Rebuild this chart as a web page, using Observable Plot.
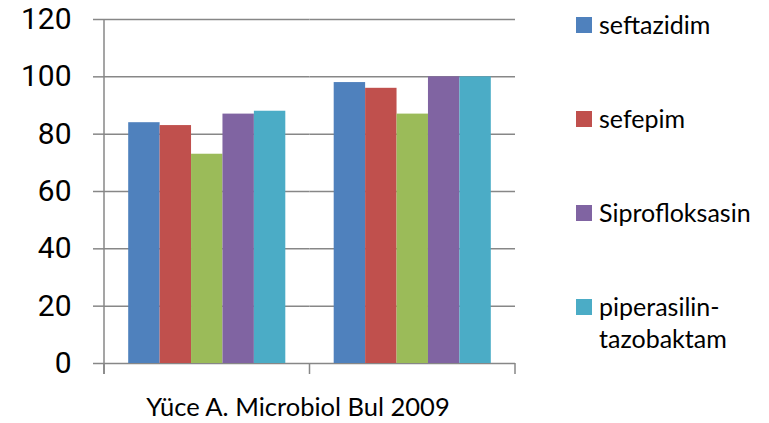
<!DOCTYPE html>
<html><head><meta charset="utf-8">
<script src="https://cdn.jsdelivr.net/npm/d3@7"></script>
<script src="https://cdn.jsdelivr.net/npm/@observablehq/plot@0.6"></script>
<style>
body{margin:0;background:#fff;}
#wrap{position:relative;width:769px;height:423px;overflow:hidden;font-family:Lato,"Open Sans",sans-serif;background:#fff;}
#chart{position:absolute;left:0;top:0;}
.caption{position:absolute;left:0;top:391px;width:596px;text-align:center;font-family:"Comic Sans MS",Lato,sans-serif;font-size:25.5px;line-height:30px;color:#000;}
.legend-item{position:absolute;left:576px;width:193px;font-size:25px;line-height:32px;color:#000;}
.legend-item .sw{position:absolute;left:0;top:9px;width:16px;height:16px;}
.legend-item .lb{display:block;margin-left:23px;}
</style></head>
<body><div id="wrap"><div id="chart"></div></div>
<script>
const groups = ["1", "2"];
const series = ["seftazidim", "sefepim", "Seri 3", "Siprofloksasin", "piperasilin-tazobaktam"];
const legendSeries = ["seftazidim", "sefepim", "Siprofloksasin", "piperasilin-tazobaktam"];
const group1Values = [84, 83, 73, 87, 88];
const group2Values = [98, 96, 87, 100, 100];
const yTicks = [0, 20, 40, 60, 80, 100, 120];
const colors = ["#4F81BD", "#C0504D", "#9BBB59", "#8064A2", "#4BACC6"];
const caption = "Yüce A. Microbiol Bul 2009";

const valuesByGroup = [group1Values, group2Values];
const data = groups.flatMap((g, gi) => series.map((s, si) => ({group: g, series: s, value: valuesByGroup[gi][si]})));

const gridColor = "#878787";
const tickLen = 11;

// Category axis: vertical axis line + tick marks at category boundaries (drawn once, not per facet)
class CategoryAxisFrame extends Plot.Mark {
  constructor() { super(undefined, {}, {facet: "super"}); }
  render(index, scales, values, dimensions) {
    const {fx, y} = scales;
    const g = d3.create("svg:g").attr("stroke", gridColor).attr("stroke-width", 1.5).attr("fill", "none");
    const y0 = y(0), yTop = y(d3.max(yTicks));
    let edges;
    if (fx) {
      edges = groups.map(k => fx(k));
      edges.push(fx(groups[groups.length - 1]) + fx.bandwidth());
    } else {
      const l = dimensions.marginLeft, r = dimensions.width - dimensions.marginRight;
      edges = groups.map((k, i) => l + (r - l) * i / groups.length).concat([r]);
    }
    g.append("line").attr("x1", edges[0]).attr("x2", edges[0]).attr("y1", yTop).attr("y2", y0 + tickLen);
    for (const e of edges) g.append("line").attr("x1", e).attr("x2", e).attr("y1", y0).attr("y2", y0 + tickLen);
    return g.node();
  }
}

const chart = Plot.plot({
  width: 565,
  height: 385,
  marginLeft: 104,
  marginRight: 50,
  marginTop: 19,
  marginBottom: 22,
  style: {color: "#000", background: "transparent", overflow: "visible"},
  fx: {domain: groups, padding: 0, axis: null, round: false},
  x: {domain: series, paddingInner: 0, paddingOuter: 0.77, axis: null, round: false},
  y: {domain: [0, 120]},
  color: {domain: series, range: colors},
  marks: [
    Plot.gridY(yTicks, {stroke: gridColor, strokeOpacity: 1, strokeWidth: 1.5}),
    Plot.barY(data, {fx: "group", x: "series", y: "value", fill: "series", inset: 0}),
    Plot.axisY(yTicks, {tickSize: tickLen, tickPadding: 22, fontSize: 30, fontFamily: "Roboto", stroke: gridColor, strokeWidth: 1.5, label: null, tickFormat: d => String(d)}),
    new CategoryAxisFrame()
  ]
});
document.getElementById("chart").appendChild(chart);

const wrap = document.getElementById("wrap");
const cap = document.createElement("div");
cap.className = "caption";
cap.textContent = caption;
wrap.appendChild(cap);

legendSeries.forEach((name, i) => {
  const item = document.createElement("div");
  item.className = "legend-item";
  item.style.top = (7.5 + i * 94.2) + "px";
  const sw = document.createElement("span");
  sw.className = "sw";
  sw.style.background = colors[series.indexOf(name)];
  const lb = document.createElement("span");
  lb.className = "lb";
  lb.textContent = name;
  item.appendChild(sw);
  item.appendChild(lb);
  wrap.appendChild(item);
});
</script>
</body></html>
